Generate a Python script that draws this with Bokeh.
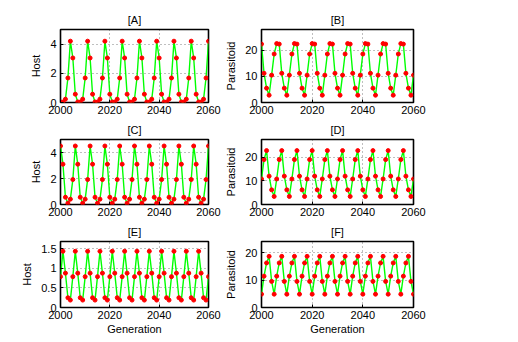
from bokeh.plotting import figure
from bokeh.layouts import column, row
from bokeh.models import Range1d, FixedTicker, NumeralTickFormatter
from bokeh.embed import file_html
from bokeh.resources import INLINE

generation = list(range(2000, 2061))

host_A = [0.04, 0.03, 0.23, 1.68,
          4.2, 3.05, 0.57, 0.04, 0.03, 0.23, 1.68,
          4.2, 3.05, 0.57, 0.04, 0.03, 0.23, 1.68,
          4.2, 3.05, 0.57, 0.04, 0.03, 0.23, 1.68,
          4.2, 3.05, 0.57, 0.04, 0.03, 0.23, 1.68,
          4.2, 3.05, 0.57, 0.04, 0.03, 0.23, 1.68,
          4.2, 3.05, 0.57, 0.04, 0.03, 0.23, 1.68,
          4.2, 3.05, 0.57, 0.04, 0.03, 0.23, 1.68,
          4.2, 3.05, 0.57, 0.04, 0.03, 0.23, 1.68,
          4.2]

para_B = [22.4, 11.2, 5.5, 2.8, 10.5, 18.6,
          22.6, 22.4, 11.2, 5.5, 2.8, 10.5, 18.6,
          22.6, 22.4, 11.2, 5.5, 2.8, 10.5, 18.6,
          22.6, 22.4, 11.2, 5.5, 2.8, 10.5, 18.6,
          22.6, 22.4, 11.2, 5.5, 2.8, 10.5, 18.6,
          22.6, 22.4, 11.2, 5.5, 2.8, 10.5, 18.6,
          22.6, 22.4, 11.2, 5.5, 2.8, 10.5, 18.6,
          22.6, 22.4, 11.2, 5.5, 2.8, 10.5, 18.6,
          22.6, 22.4, 11.2, 5.5, 2.8, 10.5]

host_C = [4.5, 3.1, 0.56, 0.1, 0.41, 1.92,
          4.5, 3.1, 0.56, 0.1, 0.41, 1.92,
          4.5, 3.1, 0.56, 0.1, 0.41, 1.92,
          4.5, 3.1, 0.56, 0.1, 0.41, 1.92,
          4.5, 3.1, 0.56, 0.1, 0.41, 1.92,
          4.5, 3.1, 0.56, 0.1, 0.41, 1.92,
          4.5, 3.1, 0.56, 0.1, 0.41, 1.92,
          4.5, 3.1, 0.56, 0.1, 0.41, 1.92,
          4.5, 3.1, 0.56, 0.1, 0.41, 1.92,
          4.5, 3.1, 0.56, 0.1, 0.41, 1.92,
          4.5]

para_D = [10.8, 19.0, 22.8, 12.0, 6.2, 3.4,
          10.8, 19.0, 22.8, 12.0, 6.2, 3.4,
          10.8, 19.0, 22.8, 12.0, 6.2, 3.4,
          10.8, 19.0, 22.8, 12.0, 6.2, 3.4,
          10.8, 19.0, 22.8, 12.0, 6.2, 3.4,
          10.8, 19.0, 22.8, 12.0, 6.2, 3.4,
          10.8, 19.0, 22.8, 12.0, 6.2, 3.4,
          10.8, 19.0, 22.8, 12.0, 6.2, 3.4,
          10.8, 19.0, 22.8, 12.0, 6.2, 3.4,
          10.8, 19.0, 22.8, 12.0, 6.2, 3.4,
          10.8]

host_E = [0.79, 1.44, 0.88, 0.25, 0.19,
          0.79, 1.44, 0.88, 0.25, 0.19,
          0.79, 1.44, 0.88, 0.25, 0.19,
          0.79, 1.44, 0.88, 0.25, 0.19,
          0.79, 1.44, 0.88, 0.25, 0.19,
          0.79, 1.44, 0.88, 0.25, 0.19,
          0.79, 1.44, 0.88, 0.25, 0.19,
          0.79, 1.44, 0.88, 0.25, 0.19,
          0.79, 1.44, 0.88, 0.25, 0.19,
          0.79, 1.44, 0.88, 0.25, 0.19,
          0.79, 1.44, 0.88, 0.25, 0.19,
          0.79, 1.44, 0.88, 0.25, 0.19,
          0.79]

para_F = [4.85, 11.4, 16.2, 18.6, 9.5,
          4.85, 11.4, 16.2, 18.6, 9.5,
          4.85, 11.4, 16.2, 18.6, 9.5,
          4.85, 11.4, 16.2, 18.6, 9.5,
          4.85, 11.4, 16.2, 18.6, 9.5,
          4.85, 11.4, 16.2, 18.6, 9.5,
          4.85, 11.4, 16.2, 18.6, 9.5,
          4.85, 11.4, 16.2, 18.6, 9.5,
          4.85, 11.4, 16.2, 18.6, 9.5,
          4.85, 11.4, 16.2, 18.6, 9.5,
          4.85, 11.4, 16.2, 18.6, 9.5,
          4.85, 11.4, 16.2, 18.6, 9.5,
          4.85]

x_ticks = [2000, 2020, 2040, 2060]
host_ticks_AC = [0, 2, 4]
host_ticks_E = [0, 0.5, 1, 1.5]
para_ticks = [0, 10, 20]

FONT = "Liberation Sans"


def panel(title, ylabel, vals, ymax, yticks, left, fw, right, top, fh, bottom, xlabel=None, yfmt=None):
    p = figure(frame_width=fw, frame_height=fh,
               x_range=Range1d(2000, 2060), y_range=Range1d(0, ymax),
               output_backend="svg", toolbar_location=None,
               min_border_left=left, min_border_right=right,
               min_border_top=top, min_border_bottom=bottom,
               title=title)
    p.background_fill_color = "white"
    p.border_fill_color = "white"
    p.outline_line_color = "black"
    p.outline_line_width = 1.6
    p.title.align = "center"
    p.title.text_font = FONT
    p.title.text_font_size = "11px"
    p.title.text_font_style = "normal"
    p.title.text_color = "black"
    p.title.standoff = 7

    p.xaxis.ticker = FixedTicker(ticks=x_ticks)
    p.yaxis.ticker = FixedTicker(ticks=yticks)
    if yfmt is not None:
        p.yaxis.formatter = yfmt
    for ax in (p.xaxis[0], p.yaxis[0]):
        ax.axis_line_color = None
        ax.major_tick_in = 3
        ax.major_tick_out = 0
        ax.minor_tick_in = 0
        ax.minor_tick_out = 0
        ax.major_tick_line_color = "black"
        ax.major_label_text_font = FONT
        ax.major_label_text_font_size = "11px"
        ax.major_label_text_color = "black"
        ax.axis_label_text_font = FONT
        ax.axis_label_text_font_size = "11px"
        ax.axis_label_text_font_style = "normal"
        ax.axis_label_text_color = "black"
    p.xaxis.major_label_standoff = 3
    p.yaxis.major_label_standoff = 4
    p.yaxis.axis_label = ylabel
    p.yaxis.axis_label_standoff = 5
    if xlabel:
        p.xaxis.axis_label = xlabel
        p.xaxis.axis_label_standoff = 1

    for g in (p.xgrid[0], p.ygrid[0]):
        g.grid_line_color = "#000000"
        g.grid_line_alpha = 0.5
        g.grid_line_dash = "1 3"
        g.grid_line_width = 1
    p.xgrid.ticker = FixedTicker(ticks=x_ticks)
    p.ygrid.ticker = FixedTicker(ticks=yticks)

    p.line(generation, vals, line_color="#00ff00", line_width=1.4)
    p.scatter(generation, vals, size=4, color="#ff0000", marker="circle")
    return p


LW, RW = 148, 152
pA = panel("[A]", "Host", host_A, 5, host_ticks_AC, 60, LW, 14, 29, 73, 16)
pB = panel("[B]", "Parasitoid", para_B, 28, para_ticks, 34, RW, 102, 29, 73, 16)
pC = panel("[C]", "Host", host_C, 5, host_ticks_AC, 60, LW, 14, 21, 65, 16)
pD = panel("[D]", "Parasitoid", para_D, 27.5, para_ticks, 34, RW, 102, 21, 65, 16)
pE = panel("[E]", "Host", host_E, 1.69, host_ticks_E, 60, LW, 14, 20, 66, 30,
           xlabel="Generation", yfmt=NumeralTickFormatter(format="0.[0]"))
pF = panel("[F]", "Parasitoid", para_F, 24, para_ticks, 34, RW, 102, 20, 66, 30,
           xlabel="Generation")

layout = column(row(pA, pB, spacing=0), row(pC, pD, spacing=0), row(pE, pF, spacing=0), spacing=0)

open("out.html", "w").write(file_html(layout, INLINE))
